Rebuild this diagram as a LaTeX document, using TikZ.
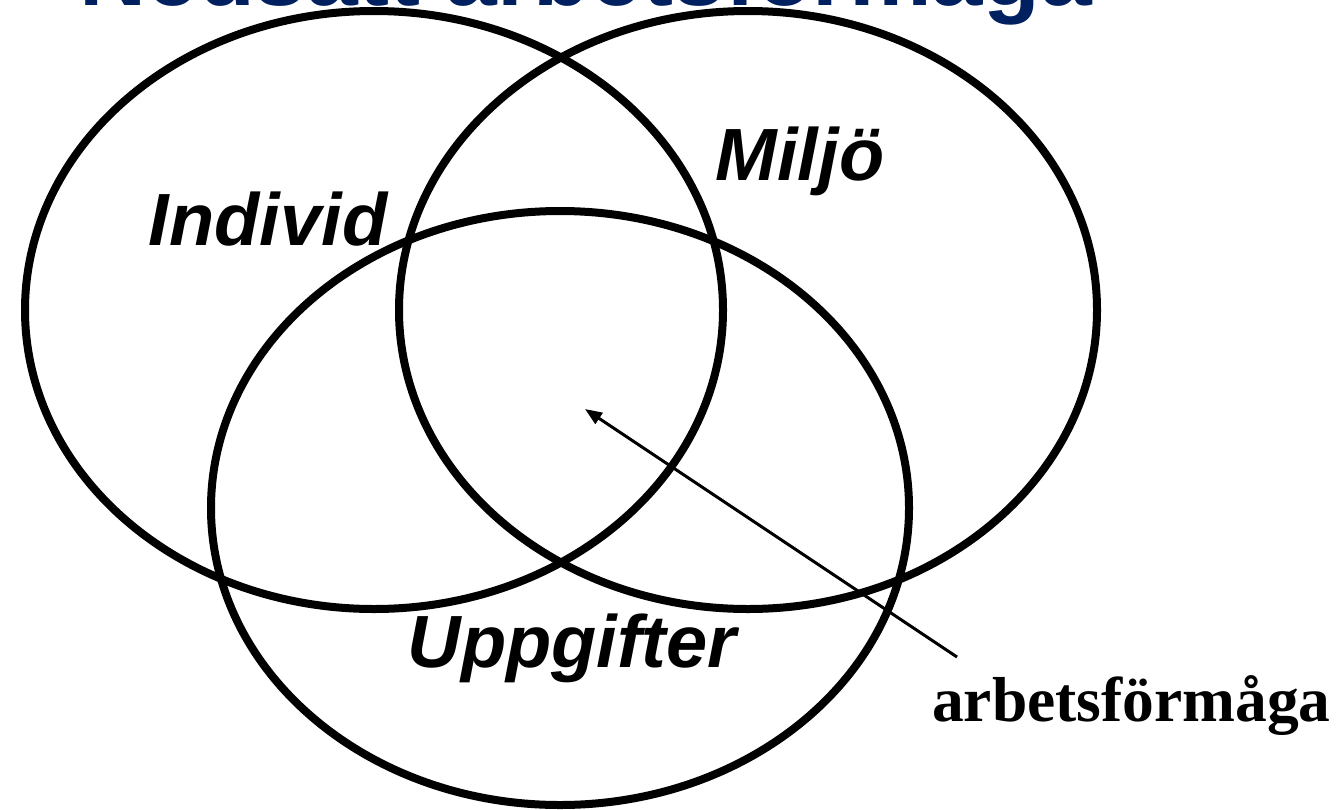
\documentclass[tikz,border=0pt]{standalone}
\usepackage{fontspec}
\setmainfont{Liberation Serif}
\newfontfamily\arialf{Liberation Sans}
\usetikzlibrary{shapes.geometric,arrows.meta}
\definecolor{titleblue}{RGB}{0,32,96}
\tikzset{
  setring/.style={draw=black, ellipse, line width=8pt, minimum width=698pt, minimum height=598pt, inner sep=0pt},
  setlabel/.style={font=\arialf\bfseries\itshape\fontsize{74}{80}\selectfont, inner sep=0pt},
  pointer/.style={line width=3pt, -{Triangle[length=17pt,width=13pt]}}
}
\begin{document}
\begin{tikzpicture}[x=1pt,y=-1pt]
\useasboundingbox (0,0) rectangle (1337,809);
\clip (0,0) rectangle (1337,809);
\fill[white] (0,0) rectangle (1337,809);
\node[anchor=base west, inner sep=0pt, text=titleblue, font=\arialf\bfseries\fontsize{93}{100}\selectfont] (title) at (79,5) {Nedsatt arbetsförmåga};
\node[setring] (ind) at (374,310) {};
\node[setring] (milj) at (748,310) {};
\node[setring, minimum height=594pt] (upp) at (560,508) {};
\node[setlabel, anchor=base] (lind) at (268,245) {Individ};
\node[setlabel, anchor=base] (lmil) at (800,180) {Miljö};
\node[setlabel, anchor=base] (lupp) at (572,667) {Uppgifter};
\node[anchor=base west, inner sep=0pt, font=\bfseries\fontsize{63.5}{70}\selectfont] (arb) at (932,721) {arbetsförmåga};
\coordinate (tail) at (957,657);
\coordinate (tip) at (585,409);
\draw[pointer] (tail) -- (tip);
\end{tikzpicture}
\end{document}
